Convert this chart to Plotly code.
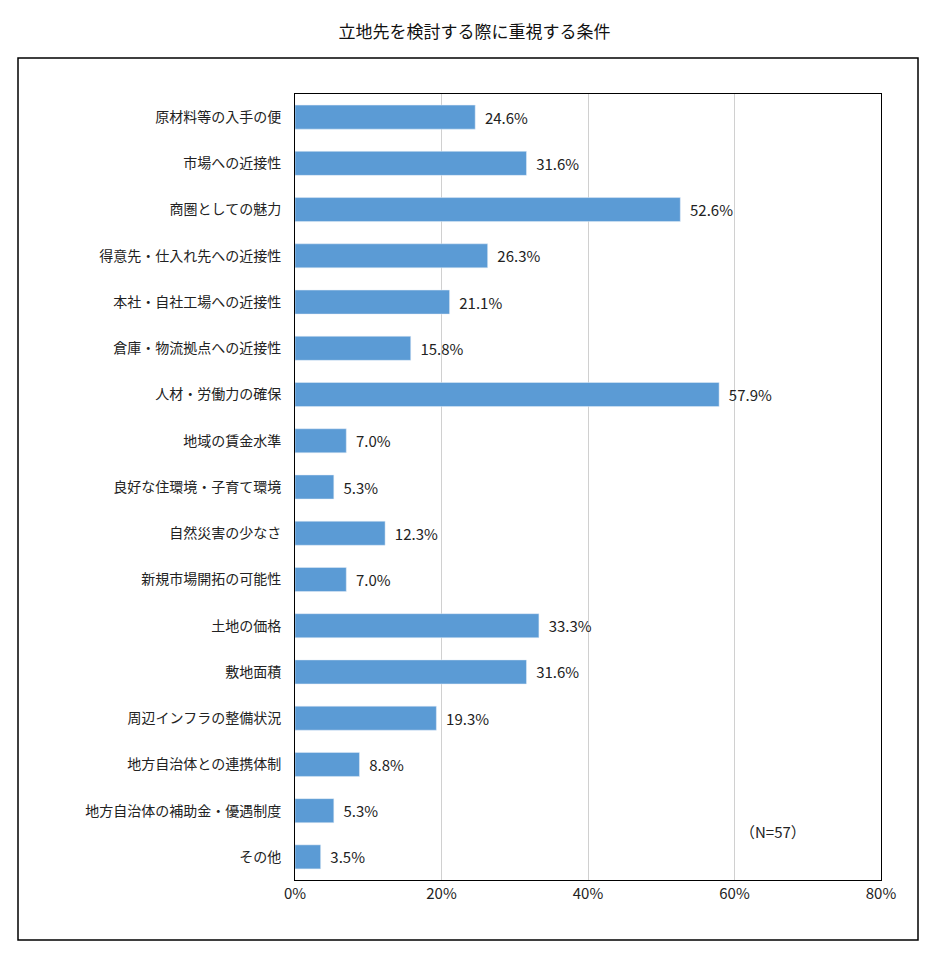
import plotly.graph_objects as go

categories = ["原材料等の入手の便", "市場への近接性", "商圏としての魅力", "得意先・仕入れ先への近接性",
              "本社・自社工場への近接性", "倉庫・物流拠点への近接性", "人材・労働力の確保", "地域の賃金水準",
              "良好な住環境・子育て環境", "自然災害の少なさ", "新規市場開拓の可能性", "土地の価格",
              "敷地面積", "周辺インフラの整備状況", "地方自治体との連携体制", "地方自治体の補助金・優遇制度", "その他"]
values = [24.6, 31.6, 52.6, 26.3, 21.1, 15.8, 57.9, 7.0, 5.3, 12.3, 7.0, 33.3, 31.6, 19.3, 8.8, 5.3, 3.5]

# page body has an 8px margin, so shift everything up-left
OFF = 8
W, H = 941 - OFF, 967 - OFF
L, R, T, B = 295 - OFF, 881 - OFF, 94 - OFF, 880 - OFF

fig = go.Figure(go.Bar(
    x=values, y=categories, orientation="h",
    marker_color="#5B9BD5", width=0.52,
    text=[f"  {v:.1f}%" for v in values], textposition="outside",
    textfont=dict(size=15, color="#222"), cliponaxis=False,
))

def px(x):
    return (x - OFF - L) / (R - L)

def py(y):
    return (B - (y - OFF)) / (B - T)

fig.update_layout(
    width=W, height=H,
    margin=dict(l=L, r=W - R, t=T, b=H - B),
    plot_bgcolor="white", paper_bgcolor="white",
    font=dict(family="Noto Sans CJK JP", size=14, color="#222"),
    title=dict(text="立地先を検討する際に重視する条件", x=0.5, xanchor="center", y=1 - (32 - OFF) / H, yanchor="middle",
               font=dict(size=17, color="#111")),
    showlegend=False,
    xaxis=dict(range=[0, 80], tickvals=[0, 20, 40, 60, 80], ticktext=["0%", "20%", "40%", "60%", "80%"],
               showgrid=True, gridcolor="#d0d0d0", gridwidth=1, zeroline=False,
               showline=True, linecolor="black", mirror=True, ticks="", tickfont=dict(size=15)),
    yaxis=dict(autorange="reversed", showline=True, linecolor="black", mirror=True, ticks="",
               tickfont=dict(size=14), ticklabelstandoff=10),
    shapes=[dict(type="rect", xref="paper", yref="paper", x0=px(18), x1=px(918), y0=py(940), y1=py(58),
                 line=dict(color="black", width=1.5))],
    annotations=[dict(text="（N=57）", x=px(808), y=py(844), xref="paper", yref="paper",
                      showarrow=False, font=dict(size=15))],
)

fig.write_html("out.html")
